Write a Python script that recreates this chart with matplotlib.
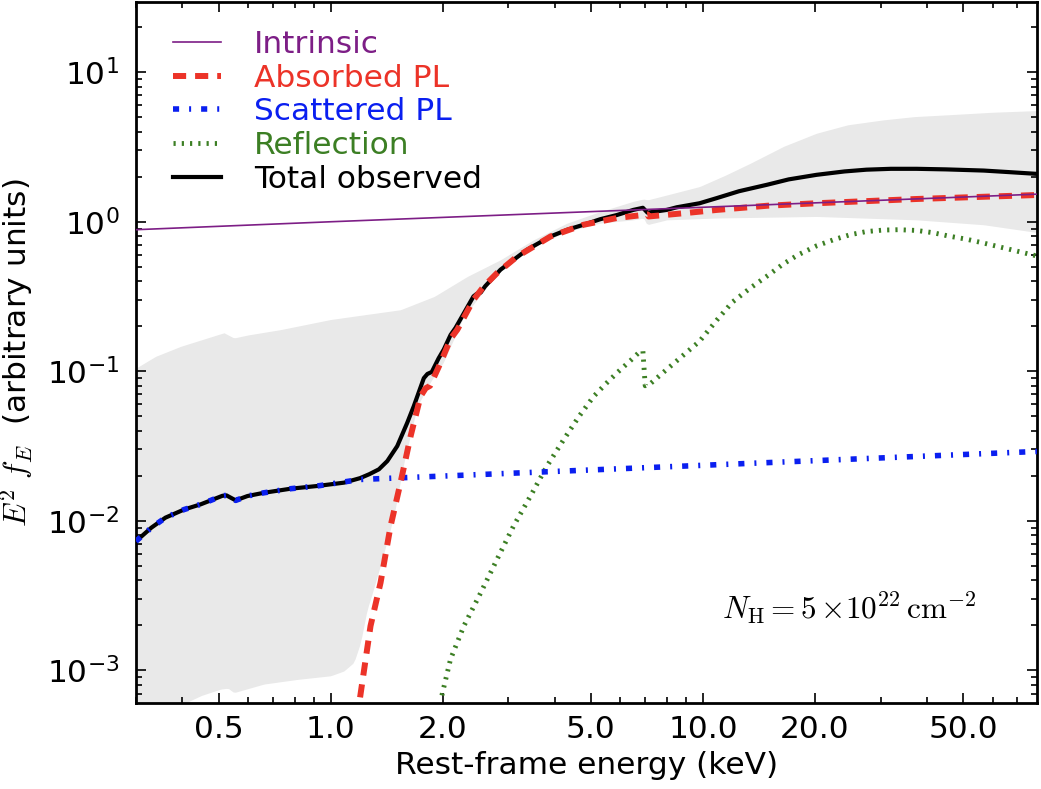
import numpy as np
import matplotlib
matplotlib.use('Agg')
import matplotlib.pyplot as plt
from matplotlib.ticker import FixedLocator, FixedFormatter, LogLocator, NullFormatter

plt.rcParams['font.family'] = ['DejaVu Sans']
plt.rcParams['mathtext.fontset'] = 'cm'
plt.rcParams['font.size'] = 22.5

# Spectral components, E^2 f_E in arbitrary units vs rest-frame energy in keV
intrinsic_E = [0.3, 1.0, 10.0, 79.0]
intrinsic_F = [0.885, 1.0, 1.25, 1.53]

scattered_E = [0.3, 0.33, 0.36, 0.404, 0.448, 0.512, 0.525, 0.556, 0.598,
               0.662, 0.781, 0.921, 1.2, 3.66, 79.0]
scattered_F = [0.0073, 0.009, 0.0105, 0.0119, 0.0129, 0.0147, 0.0148, 0.0137,
               0.01465, 0.0154, 0.0164, 0.0171, 0.0189, 0.0212, 0.0291]

absorbed_E = [1.2, 1.28, 1.362, 1.449, 1.541, 1.64, 1.744, 1.80, 1.85, 1.974,
              2.1, 2.19, 2.42, 2.58, 2.8, 3.17, 3.9, 4.78, 5.88, 6.9, 7.1,
              7.15, 8.87, 10.9, 14.9, 20.2, 37.5, 79.0]
absorbed_F = [6.6e-4, 0.00198, 0.00386, 0.00922, 0.018, 0.0368, 0.068, 0.077,
              0.080, 0.114, 0.165, 0.19, 0.301, 0.37, 0.454, 0.586, 0.798,
              0.955, 1.06, 1.11, 1.12, 1.085, 1.14, 1.2, 1.28, 1.33, 1.42, 1.51]

reflection_E = [1.99, 2.1, 2.28, 2.53, 2.8, 3.1, 3.44, 3.81, 4.23, 4.65, 5.09,
                5.5, 5.88, 6.39, 6.7, 6.9, 7.0, 7.2, 8.0, 9.8, 10.9, 12.0,
                13.4, 15.0, 16.4, 18.0, 20.2, 22.5, 24.9, 27.5, 30.5, 33.5,
                37.5, 41.5, 46.0, 51.0, 56.8, 66.5, 79.0]
reflection_F = [6.8e-4, 0.00119, 0.00198, 0.0033, 0.00553, 0.00923, 0.0146,
                0.0232, 0.035, 0.05, 0.068, 0.083, 0.0977, 0.118, 0.132,
                0.137, 0.08, 0.082, 0.103, 0.159, 0.22, 0.29, 0.36, 0.44,
                0.52, 0.60, 0.69, 0.76, 0.82, 0.86, 0.88, 0.885, 0.875, 0.845,
                0.80, 0.765, 0.72, 0.655, 0.59]

total_E = [0.3, 0.33, 0.36, 0.404, 0.448, 0.512, 0.525, 0.556, 0.598, 0.662,
           0.781, 0.921, 1.086, 1.2, 1.27, 1.348, 1.42, 1.51, 1.606, 1.673,
           1.78, 1.82, 1.87, 1.95, 2.014, 2.1, 2.165, 2.42, 2.47, 2.53, 2.6,
           2.86, 3.37, 3.9, 4.32, 4.78, 5.3, 5.88, 6.5, 6.9, 7.1, 8.0, 8.51,
           9.8, 10.9, 12.5, 14.9, 17.0, 20.2, 24.0, 27.5, 32.0, 37.5, 45.0,
           56.8, 66.0, 79.0]
total_F = [0.0073, 0.009, 0.0105, 0.0119, 0.0129, 0.0147, 0.0148, 0.0137,
           0.01465, 0.0154, 0.0164, 0.0171, 0.018, 0.0193, 0.0205, 0.0221,
           0.0251, 0.0316, 0.0452, 0.0585, 0.090, 0.096, 0.099, 0.122, 0.14,
           0.175, 0.195, 0.317, 0.33, 0.336, 0.37, 0.478, 0.65, 0.798, 0.884,
           0.955, 1.04, 1.11, 1.2, 1.24, 1.15, 1.2, 1.25, 1.33, 1.44, 1.6,
           1.77, 1.92, 2.06, 2.17, 2.23, 2.26, 2.26, 2.24, 2.2, 2.15, 2.09]

# Range of total spectra (shaded envelope)
band_hi_E = [0.3, 0.339, 0.396, 0.517, 0.55, 0.6, 0.734, 1.0, 1.25, 1.54, 1.9,
             2.33, 2.86, 3.51, 4.32, 5.3, 6.5, 6.93, 7.1, 8.0, 9.8, 11.5,
             13.4, 16.5, 20.2, 24.5, 30.5, 37.0, 46.0, 60.0, 79.0]
band_hi_F = [0.105, 0.126, 0.147, 0.181, 0.167, 0.175, 0.19, 0.222, 0.24,
             0.258, 0.317, 0.431, 0.557, 0.758, 0.98, 1.17, 1.37, 1.42, 1.40,
             1.51, 1.72, 2.05, 2.46, 3.2, 3.91, 4.45, 4.8, 5.05, 5.2, 5.4,
             5.54]
band_lo_E = [0.3, 0.35, 0.404, 0.45, 0.507, 0.53, 0.55, 0.662, 0.814, 1.0,
             1.085, 1.155, 1.204, 1.254, 1.28, 1.36, 1.48, 1.573, 1.71, 1.855,
             2.01, 2.28, 2.86, 3.51, 4.32, 5.3, 6.5, 6.93, 7.08, 8.0, 10.9,
             20.2, 37.5, 56.8, 79.0]
band_lo_F = [3e-4, 4.5e-4, 6.0e-4, 6.8e-4, 7.5e-4, 7.6e-4, 7.1e-4, 8.1e-4,
             8.7e-4, 9.2e-4, 9.9e-4, 0.00113, 0.00154, 0.00257, 0.003, 0.005,
             0.0108, 0.0245, 0.0585, 0.085, 0.115, 0.233, 0.478, 0.684, 0.86,
             0.98, 1.03, 1.06, 0.955, 1.03, 1.06, 1.085, 1.03, 0.955, 0.848]

fig = plt.figure(figsize=(10.41, 7.89), dpi=100)
ax = fig.add_axes([0.1306, 0.109, 0.8656, 0.8885])

# envelope on a common log grid
grid = np.geomspace(0.3, 79.0, 400)
hi = np.exp(np.interp(np.log(grid), np.log(band_hi_E), np.log(band_hi_F)))
lo = np.exp(np.interp(np.log(grid), np.log(band_lo_E), np.log(band_lo_F)))
ax.fill_between(grid, lo, hi, color='#e9e9e9', lw=0, zorder=1)

ax.plot(reflection_E, reflection_F, color='#3c7f24', lw=3.5,
        dashes=(0.45, 1.25), dash_capstyle='butt', zorder=2, label='Reflection')
ax.plot(total_E, total_F, color='black', lw=3, zorder=3, label='Total observed')
ax.plot(scattered_E, scattered_F, color='#0a1ff0', lw=4,
        dashes=(1.1, 1.8, 0.36, 1.8), dash_capstyle='butt', zorder=4,
        label='Scattered PL')
ax.plot(absorbed_E, absorbed_F, color='#ec3328', lw=4.3,
        dashes=(2.2, 1.5), dash_capstyle='butt', zorder=5, label='Absorbed PL')
ax.plot(intrinsic_E, intrinsic_F, color='#7d1e86', lw=1.2, zorder=6,
        label='Intrinsic')

ax.set_xscale('log')
ax.set_yscale('log')
ax.set_xlim(0.3, 79.0)
ax.set_ylim(6.05e-4, 29.5)

xt = [0.5, 1.0, 2.0, 5.0, 10.0, 20.0, 50.0]
ax.xaxis.set_major_locator(FixedLocator(xt))
ax.xaxis.set_major_formatter(FixedFormatter(['%.1f' % v for v in xt]))
ax.xaxis.set_minor_locator(LogLocator(base=10, subs=np.arange(1, 10), numticks=20))
ax.xaxis.set_minor_formatter(NullFormatter())
ax.yaxis.set_minor_locator(LogLocator(base=10, subs=np.arange(2, 10), numticks=20))
ax.yaxis.set_minor_formatter(NullFormatter())

ax.tick_params(which='both', direction='in', top=True, right=True, width=1.2)
ax.tick_params(which='major', length=7)
ax.tick_params(which='minor', length=4)
ax.tick_params(axis='x', pad=9)
ax.tick_params(axis='y', pad=12)
for s in ax.spines.values():
    s.set_linewidth(2)

ax.set_xlabel('Rest-frame energy (keV)', labelpad=5)
ax.set_ylabel(r'$E^2\ f_E$  (arbitrary units)', labelpad=8)

handles, labels = ax.get_legend_handles_labels()
order = ['Intrinsic', 'Absorbed PL', 'Scattered PL', 'Reflection', 'Total observed']
hmap = dict(zip(labels, handles))
leg = ax.legend([hmap[k] for k in order], order, loc='upper left',
                bbox_to_anchor=(0.02, 0.987), frameon=False,
                handlelength=1.55, handletextpad=1.05, labelspacing=0.15,
                borderaxespad=0.2)
for txt, h in zip(leg.get_texts(), leg.legend_handles):
    txt.set_color(h.get_color())

ax.text(0.933, 0.1355, r'$N_{\rm H}=5\,{\times}10^{22}\,{\rm cm^{-2}}$',
        transform=ax.transAxes, ha='right', va='center', fontsize=22.5)

fig.savefig('out.png', dpi=100)
